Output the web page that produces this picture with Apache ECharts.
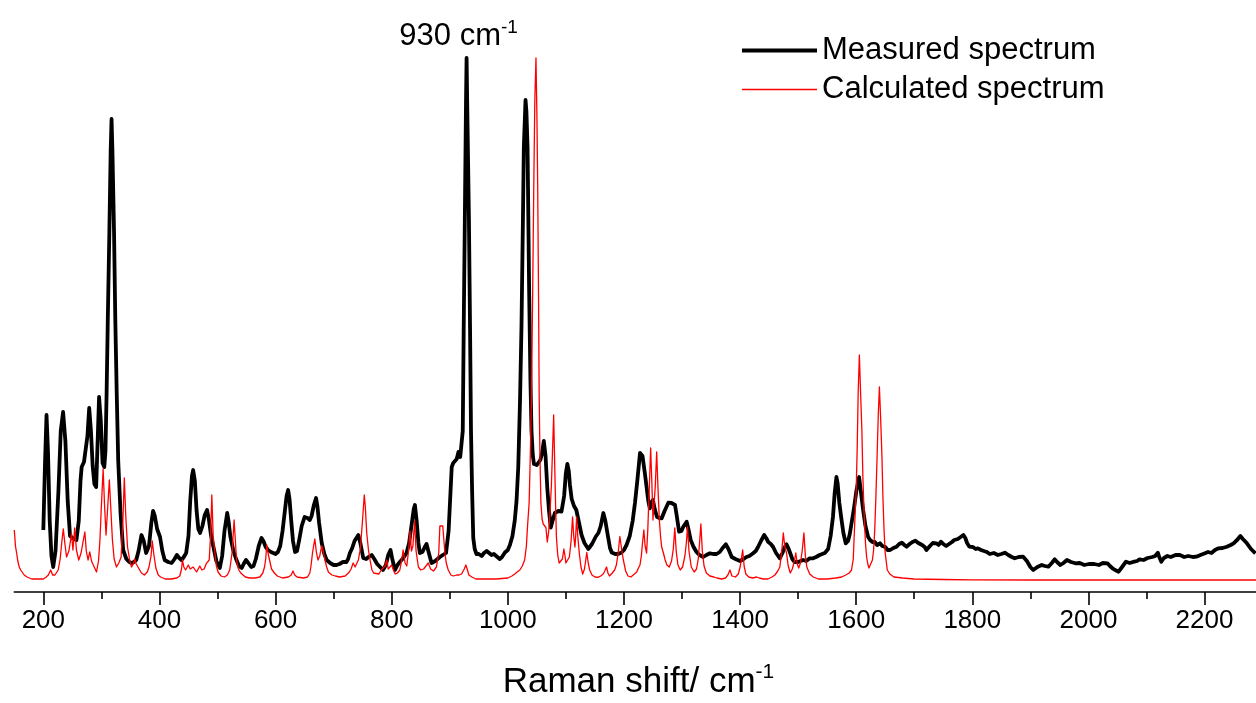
<!DOCTYPE html>
<html>
<head>
<meta charset="utf-8">
<script src="https://cdn.jsdelivr.net/npm/echarts@6/dist/echarts.min.js"></script>
<style>
html,body{margin:0;padding:0;background:#fff;}
#chart{width:1256px;height:703px;}
</style>
</head>
<body>
<div id="chart"></div>
<script>
// ---- data (Raman shift in cm-1, intensity in arbitrary units) ----
const measuredShift = [200,203,205.5,208,211,214,217,221,226,230,234,238,242,246,249,253,257,261,264,266,270,273,276,279,282,285,288,291,293,296,299,302,305,307,309,311,313.7,316,317.5,319,321.8,324,326.4,329,333,337.5,343,348,352,356,360,364,369,373,377,382,386,389,392,396,401,405,409,415,421,426,430,434,438,442,446,450,453,456,458,461,464,467,470,474,478,482,485,489,493,498,504,508,512,516.7,519,522,527,532,537,541.7,545,549,553,558,562,566,571,575.8,579,583,587,592,596,600,604,608,612,616,619,621.7,624,627,630,633.5,637,641,645,650,655,659,662,666,669.7,672,675,679.5,684,688,694,700,705,710,716,722,725,728,732,736,742.5,746,751,756,760,765.6,770,775,780,785,790,794,798,801,805.7,810,814,820,825.6,830,834,838,840,843,846,848.5,853,857,860,864,868.6,875,883,888,893.6,898,903.4,906,909,912,915,918,920,922.4,924,926,928,929,930,933,935,936.6,938.5,940.5,943,946,950,955,959,963.6,967,972,976,980,986,990,995,1000,1003.6,1008,1012,1015,1018,1021,1023.6,1026,1027.6,1030.5,1032,1034,1036.7,1039,1040.8,1043,1045,1050,1053,1056,1059,1062,1065,1068,1071,1074,1077,1081,1087,1092.5,1097,1100,1102.5,1105,1107,1110,1114,1118,1122,1127,1132,1138.6,1145,1151.6,1156,1160,1164.5,1168,1173,1176,1179,1185,1190,1196,1200,1204.5,1210,1215,1219,1223,1227.7,1229.5,1232,1236,1239,1242,1244.6,1247,1250,1253,1257,1261,1265,1270,1276.5,1282,1288,1291,1295,1299,1302,1308,1311,1315,1320,1325,1330,1336.6,1342,1348,1354,1359.5,1365,1370,1375.6,1380,1385.6,1392,1400,1406,1411,1416,1422.5,1427,1431,1436,1441.6,1445,1448.6,1453,1457,1462,1468.6,1473,1477,1480,1483,1485.7,1490,1494,1500,1503,1508.6,1514,1520,1525.8,1531,1537,1540,1546,1551.7,1556,1560,1563,1566,1568,1571,1574.8,1578,1582,1586,1589,1592,1596,1600.6,1605,1608,1612,1616,1620.6,1624,1628,1632,1636,1641,1645,1650,1654,1658.5,1664,1669.5,1674,1678.7,1683,1687,1692,1697,1702,1707,1713.6,1718,1721,1727,1732,1738,1742,1745.8,1750,1755,1760,1765,1769,1775,1780,1784.7,1788,1791,1795,1801,1806,1809.6,1815,1820,1824,1830,1837,1844,1850,1856,1862,1868,1873,1880,1887.6,1894,1900,1905,1912,1919.5,1925,1931,1937,1941.8,1946,1951.6,1957,1963,1970,1977.6,1985,1993,2000.8,2010,2018,2025,2032.8,2037,2041.5,2046,2052,2058,2064.7,2071,2079,2084,2088,2095,2102,2110,2115,2119.6,2122,2125.5,2130,2136,2142,2150,2157.5,2165,2172,2180,2186,2193,2200.7,2206,2212,2218,2224,2231,2238.5,2245,2250,2256,2261.7,2266,2273,2280,2287.7];
const measuredIntensity = [51,120,166,130,60,25,14,30,90,150,169,140,80,45,44,42,41,60,100,114,119,121,145,173,150,115,97,94,130,184,160,118,114,130,188,260,348,430,462,430,348,260,188,120,68,31,22,19,18,19,21,30,46,40,28,35,58,70,65,52,44,30,21,19,18,22,26,23,21,24,28,45,80,105,111,100,70,52,48,55,66,71,62,45,34,20,13,25,50,68,60,45,31,22,15,13,17,21,18,14,15,22,35,43,40,34,31,29,28,27,29,35,50,70,85,91,82,60,40,29,30,42,55,64,63,61,65,76,83,75,58,38,27,21,18,16,16,17,19,19,22,28,33,40,46,38,23,22,24,26,22,17,14,11,16,26,31,22,11,16,19,23,28,38,55,72,76,60,38,28,29,34,37,28,18,20,24,26,28,50,114,118,119,122,129,124,125,150,250,363,480,523,480,363,250,150,90,43,32,27,27,25,28,30,28,26,27,25,22,24,28.5,31,36,45,60.6,80,114,180,256,360,434,481,470,434,292,200,150,126,117,116,117,121,128,140,125,93,70,53.5,60,68,70,69.5,85,108,117,110,96,82,75,71,60,46,38,32,37,44.5,48,55,68,60,43,33,28.5,27,27,28.5,31,36,45,60,78,100,128,129,125,108,94,80,72.7,78,81,72,64,63,62.7,70,78.3,78,76,65,49.3,50,54,59.3,52,41,34,29,26,24,26,27.7,27,27,29,33,36.7,32,24,22,20,22,24,25,27.7,30,34,40,46,43,39,37,34,28,22.7,28,34,36.7,33,29,22,19,19,19,21,20,22.7,22.7,24,26,26,28,32,45,64,88,104,98,78,61,48,37.7,40,47,57.7,72,91,104,90,71,55,44,41,39,39,36,37.7,35,34,31,31,33,34.3,37,38.3,36,34.3,37,39,40.3,38,36,34,31,35,38,37.7,36,39.3,37,35,37,39,41,42,44,46,43,38,34.3,34,32,32.7,31,30,29.3,27,28,26,27,28.3,26,24,22.7,24,24.3,20,14,11,14,16,15,14.3,18,21.7,19,16,18,21,19,17.7,18,16,17,17,16,18,17.7,15,12.7,11,9.3,14,19.3,18,19.3,20,21.7,21,23,24,25,28.3,24,19.3,23,25,24,26,26,24,25,24,24.3,26,27.7,29,28,31,32.7,33,34.3,36,37.7,41,45,42,37.7,32,27.7];

const calculatedShift = [150,152,154,156,158.5,161,164,167,172,180,190,200,205,208.6,212.7,216,220,225.6,229,232,234.4,237,240,244,248.6,251,254,257,261,265,268,271.5,274,277,280,283,286,291.6,295,297.5,300,303,305.5,308,311,313.7,316,319,322,326,330,334,337,339.5,342,345,349,352,355,357.6,360,364,369,374,379,382,385.5,387.6,390,393.8,398,402,410,420,430,435,438,439.7,442,445,449.7,453,456,458,461,464,466,469.5,473,477,481,485.7,488,490.2,492.5,495,498,501,506,512,517,521,525,528.6,531,532.7,536,540,548,555,565,573,578,581,583,584.8,587,590,593,598,603,612,622,627,630,633,637,648,655,659,661,663.6,665.5,667.6,670,673,676,679.5,682,685,688,691,697,703,710,720,727,730,733.6,737,740,742.6,746,749,751.5,752.8,754.5,757,760,763,766,769,772,778,782,785,788.5,791.5,794,797,800,803,806,810,814,817,819.7,823,826,829,831.5,834,836.5,839.5,842,846,850,855,859,863,867,872,877,881,883,886,888,890,891.6,894,897.4,902,906,912,916,920.3,925,927.7,930,933,938,945,960,980,1000,1007,1012,1016,1020.7,1025,1029,1032,1034,1036.7,1038.5,1040.8,1043,1044.8,1046.5,1048.5,1050,1051.4,1053,1054,1055.5,1057,1059,1061,1063.5,1065.6,1068,1070.5,1072.6,1075,1077,1079,1081,1082.5,1083.8,1086,1088.4,1091,1094,1096.6,1098.5,1100,1103,1106,1109,1111.5,1113.5,1115.6,1117,1118.5,1120.5,1123,1126,1129,1132,1134,1136,1138.5,1141,1145,1150,1155,1160,1164.2,1167,1170,1172.5,1175,1180,1184,1187,1190,1193,1196,1199,1203,1207,1212,1218,1222,1225,1227.6,1230,1232,1234.3,1236.5,1239,1241,1243.5,1246,1248,1250,1252,1254,1256.4,1258.5,1261,1263,1265,1268,1271,1274,1278,1282,1285,1287.6,1290,1293,1297,1301,1305,1307.5,1309.5,1312,1316,1321,1325,1328,1330.5,1332.5,1335,1338,1342,1348,1355,1360,1368,1375,1379,1382.6,1386,1392,1397,1400.5,1404.5,1407,1410,1415,1422,1428.6,1433,1440,1448,1455,1460,1465,1468.5,1471.5,1474.5,1477,1480,1483,1486.5,1490,1493.5,1496,1498.5,1501,1504,1507,1510,1512.5,1515,1520,1526,1535,1550,1565,1575,1582,1588,1592,1595,1597,1600,1601.8,1603.5,1605.5,1607.5,1609.8,1611.5,1613.6,1616,1618,1620,1622,1625,1628,1630,1632,1634,1636,1638,1640,1642,1644.4,1646,1648,1650,1653.6,1658,1665,1680,1700,1750,1800,1900,2000,2100,2200,2300];
const calculatedIntensity = [51,35,28,20,14,11,9,6,4,2,2,2,4,6,11,6,6,11,22,40,52,38,24,30,47,31,53,31,21,28,38,49,30,21,29,20,16,9,20,41,75,112,75,46,75,101,75,41,22,14,18,24,60,103,65,34,20,14,17,22,17,13,8,6,9,14,25,40,28,13,6,4,2,2,3,5,12,21,14,11,16,12,10,14,14,9,8,15,11,12,17.7,21,45,86,45,31,15,9,5,4,6,11,28,61,38,21,12,8,4,3,3,4,8,14,22,36,28,20,12,8,5,3,4,6,10,6,4,3,4,8,15,28,35,42,30,21,25,35,30,21,14,9,6,5,4,5,9,12,18,14,14,21,32,55,75,86,75,48,31,20,11,8,6,7,11,11,15,21,12,11,16,11,7,8,11,20,31,18,15,30,50,30,35,60,30,14,11,12,15,18,12,10,14,28,55,55,55,40,28.5,18,11,6,5,6,6,7,12,16,12,6,4,2,2,2,3,5,7,9,11,15,21,35,55,78,120,185,300,399,480,523,470,399,280,185,120,78,62,57,56,53.5,39,50,68,95,130,166,110,70,43,26,18,17,22,32,25,18,19,24,40,64,45,34,46,64,45,28.5,14,7,12,20,28.5,18,11,6,4,3.6,5,7,10,14,8,5,8,11,16,28,44.5,32,21,10,5,4,7,9,13,16,25,38,51,35,28,50,90,133,100,61,60,95,129,95,61,45,34,28,21,16,14,20,32,53,30,16,11,14,25,38,54,30,14,9,12,22,40,57,30,15,8,5,4,3,2,3,6,11,5,4,7,15,31,15,7,4,3,4,3,2,2,4,6,10,14,28,48,35,28,15,8,12,20,28,17,13,18,30,48,25,14,7,4,2,2,3,4,6,8,11,22,51,90,134,190,226,190,151,105,68,38,24,17,13,14,21,31,51,85,124,165,194,165,124,85,51,28,11,7,4,3,2,1.5,1.2,1,1,1,1,1];

const majorTicks = [200,400,600,800,1000,1200,1400,1600,1800,2000,2200];
const minorTicks = [300,500,700,900,1100,1300,1500,1700,1900,2100,2300];
const seriesNames = ['Measured spectrum', 'Calculated spectrum'];
const annotatedPeak = 930;

const zip = (xs, ys) => xs.map((x, i) => [x, ys[i]]);
const measuredData = zip(measuredShift, measuredIntensity);
const calculatedData = zip(calculatedShift, calculatedIntensity);
const peakPoint = measuredData.reduce((b, p) => (Math.abs(p[0] - annotatedPeak) < 3 && p[1] > b[1]) ? p : b, [annotatedPeak, 0]);

const FONT = '"Liberation Sans", Arial, Helvetica, sans-serif';
const chart = echarts.init(document.getElementById('chart'), null, {renderer: 'canvas'});
chart.setOption({
  animation: false,
  backgroundColor: '#ffffff',
  grid: {left: 14.3, right: -6.6, top: 0, bottom: 111, containLabel: false, outerBoundsMode: 'none'},
  legend: {
    left: 735, top: 30, orient: 'vertical',
    itemWidth: 75, itemHeight: 14, itemGap: 8, itemTextGap: 5,
    itemStyle: {opacity: 0},
    textStyle: {fontFamily: FONT, fontSize: 31, color: '#000'},
    data: [
      {name: seriesNames[0], lineStyle: {width: 4}},
      {name: seriesNames[1], lineStyle: {width: 1.6}}
    ]
  },
  xAxis: [{
    type: 'value', min: 150, max: 2300, position: 'bottom',
    axisLine: {show: true, onZero: false, lineStyle: {color: '#000', width: 1.6}},
    axisTick: {show: true, customValues: majorTicks, length: 13, lineStyle: {color: '#000', width: 1.6}},
    axisLabel: {show: true, customValues: majorTicks, fontFamily: FONT, fontSize: 26, color: '#000', margin: 16,
      formatter: v => String(v)},
    splitLine: {show: false},
    name: '{a|Raman shift/ cm}{s|-1}',
    nameLocation: 'middle', nameGap: 70,
    nameTextStyle: {
      fontFamily: FONT, fontSize: 35, color: '#000',
      rich: {
        a: {fontFamily: FONT, fontSize: 35, color: '#000'},
        s: {fontFamily: FONT, fontSize: 21, color: '#000', padding: [0, 0, 19, 0]}
      }
    }
  }, {
    type: 'value', min: 150, max: 2300, position: 'bottom',
    axisLine: {show: false, onZero: false},
    axisTick: {show: true, customValues: minorTicks, length: 7, lineStyle: {color: '#000', width: 1.6}},
    axisLabel: {show: false},
    splitLine: {show: false}
  }],
  yAxis: {type: 'value', min: -11, max: 581, show: false, splitLine: {show: false}},
  series: [{
    name: seriesNames[0], type: 'line', xAxisIndex: 0, data: measuredData,
    showSymbol: false, symbol: 'none', smooth: false,
    lineStyle: {color: '#000', width: 3.8, join: 'round'}, itemStyle: {color: '#000'},
    markPoint: {
      symbol: 'circle', symbolSize: 0,
      label: {
        show: true, position: 'top', distance: 4, offset: [-8, 0],
        formatter: '{a|930 cm}{s|-1}',
        rich: {
          a: {fontFamily: FONT, fontSize: 31, color: '#000'},
          s: {fontFamily: FONT, fontSize: 19, color: '#000', padding: [0, 0, 17, 0]}
        }
      },
      data: [{coord: peakPoint}]
    },
    z: 2
  }, {
    name: seriesNames[1], type: 'line', xAxisIndex: 0, data: calculatedData,
    showSymbol: false, symbol: 'none', smooth: false,
    lineStyle: {color: '#ff0000', width: 1.3, join: 'round'}, itemStyle: {color: '#ff0000'},
    z: 3
  }]
});
</script>
</body>
</html>
